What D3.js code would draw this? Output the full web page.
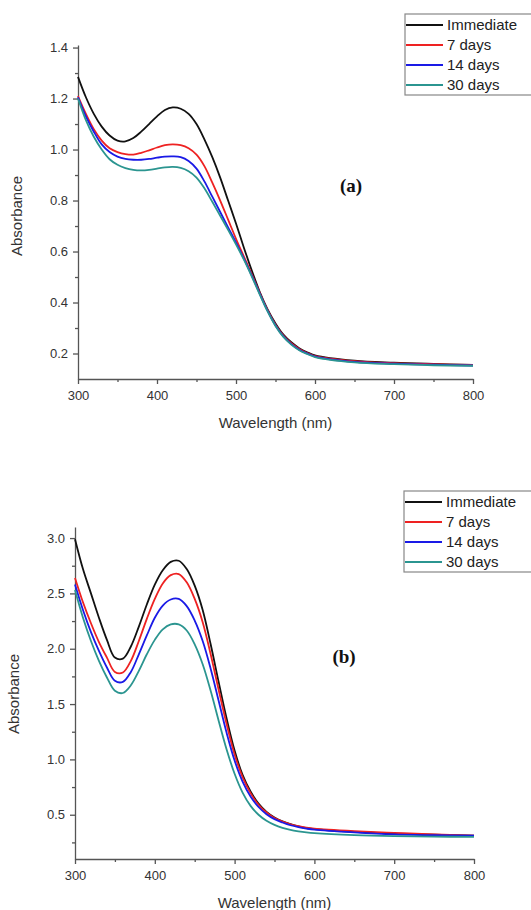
<!DOCTYPE html>
<html>
<head>
<meta charset="utf-8">
<script src="https://cdn.jsdelivr.net/npm/d3@7"></script>
<style>
  body { margin: 0; background: #fff; }
  svg { display: block; font-family: "Liberation Sans", Arial, sans-serif; }
</style>
</head>
<body>
<svg id="chart"></svg>
<script>
// UV-vis spectra, two panels (a) and (b)

var wavelengths = [300, 310, 320, 330, 340, 350, 360, 370, 380, 390, 400, 410, 420, 430, 440, 450,
    460, 470, 480, 490, 500, 510, 520, 530, 540, 550, 560, 570, 580, 590, 600, 650, 700, 750, 800];
var seriesNames = ['Immediate', '7 days', '14 days', '30 days'];
var seriesColors = ['#111111', '#ee2222', '#1a1ae6', '#2b9590'];

// panel (a)
var absA_immediate = [1.285, 1.205, 1.14, 1.09, 1.055, 1.035, 1.032, 1.045, 1.07, 1.10, 1.13, 1.155, 1.165, 1.16, 1.14, 1.10,
    1.04, 0.97, 0.89, 0.80, 0.71, 0.615, 0.525, 0.442, 0.373, 0.318, 0.274, 0.244, 0.221, 0.205, 0.193, 0.172, 0.164, 0.159, 0.155];
var absA_7days = [1.21, 1.14, 1.08, 1.035, 1.005, 0.99, 0.982, 0.98, 0.987, 0.997, 1.008, 1.017, 1.02, 1.017, 1.005, 0.98,
    0.935, 0.87, 0.80, 0.725, 0.65, 0.58, 0.51, 0.438, 0.37, 0.313, 0.27, 0.24, 0.218, 0.202, 0.19, 0.17, 0.162, 0.158, 0.155];
var absA_14days = [1.205, 1.13, 1.07, 1.02, 0.99, 0.972, 0.963, 0.96, 0.96, 0.963, 0.968, 0.972, 0.973, 0.97, 0.955, 0.925,
    0.875, 0.815, 0.755, 0.695, 0.635, 0.572, 0.505, 0.435, 0.367, 0.31, 0.267, 0.237, 0.215, 0.20, 0.188, 0.167, 0.16, 0.156, 0.153];
var absA_30days = [1.20, 1.115, 1.05, 1.0, 0.962, 0.94, 0.927, 0.92, 0.918, 0.92, 0.925, 0.93, 0.932, 0.928, 0.915, 0.89,
    0.848, 0.795, 0.74, 0.685, 0.628, 0.568, 0.502, 0.432, 0.365, 0.308, 0.265, 0.235, 0.213, 0.198, 0.186, 0.165, 0.158, 0.154, 0.152];

// panel (b)
var absB_immediate = [2.99, 2.72, 2.50, 2.28, 2.08, 1.92, 1.91, 2.02, 2.20, 2.40, 2.58, 2.71, 2.785, 2.795, 2.72, 2.57,
    2.35, 2.04, 1.70, 1.37, 1.08, 0.86, 0.71, 0.60, 0.525, 0.475, 0.44, 0.415, 0.395, 0.38, 0.37, 0.345, 0.33, 0.32, 0.31];
var absB_7days = [2.64, 2.42, 2.23, 2.06, 1.92, 1.79, 1.785, 1.89, 2.07, 2.27, 2.45, 2.59, 2.665, 2.675, 2.60, 2.45,
    2.24, 1.95, 1.63, 1.32, 1.045, 0.84, 0.695, 0.59, 0.52, 0.47, 0.438, 0.414, 0.396, 0.383, 0.374, 0.352, 0.336, 0.322, 0.312];
var absB_14days = [2.58, 2.35, 2.15, 1.98, 1.83, 1.71, 1.70, 1.79, 1.95, 2.12, 2.28, 2.39, 2.445, 2.45, 2.385, 2.255,
    2.07, 1.82, 1.53, 1.24, 0.99, 0.80, 0.665, 0.57, 0.505, 0.46, 0.43, 0.405, 0.388, 0.375, 0.365, 0.34, 0.322, 0.315, 0.31];
var absB_30days = [2.53, 2.28, 2.07, 1.89, 1.74, 1.62, 1.60, 1.67, 1.80, 1.95, 2.08, 2.175, 2.22, 2.22, 2.165, 2.04,
    1.86, 1.62, 1.35, 1.09, 0.87, 0.70, 0.58, 0.50, 0.445, 0.408, 0.382, 0.363, 0.35, 0.34, 0.333, 0.315, 0.306, 0.302, 0.30];

var xTicks = [300, 400, 500, 600, 700, 800];
var xMinorTicks = [350, 450, 550, 650, 750];
var yTicksA = [0.2, 0.4, 0.6, 0.8, 1.0, 1.2, 1.4];
var yMinorTicksA = [0.3, 0.5, 0.7, 0.9, 1.1, 1.3];
var yTicksB = [0.5, 1.0, 1.5, 2.0, 2.5, 3.0];
var yMinorTicksB = [0.25, 0.75, 1.25, 1.75, 2.25, 2.75];

var svgWidth = 531, svgHeight = 910;
var axisColor = '#555';

var svg = d3.select('#chart')
    .attr('width', svgWidth)
    .attr('height', svgHeight);

function drawPanel(p) {
    var g = svg.append('g');

    var xScale = d3.scaleLinear().domain([300, 800]).range([p.left, p.right]);
    var yScale = d3.scaleLinear().domain(p.yDomain).range([p.bottom, p.top]);

    // minor ticks first, so major ones sit on top
    g.append('g')
        .attr('transform', 'translate(0,' + p.bottom + ')')
        .call(d3.axisBottom(xScale).tickValues(xMinorTicks).tickSize(3).tickFormat(''))
        .call(function(a) { a.select('.domain').remove(); });
    g.append('g')
        .attr('transform', 'translate(' + p.left + ',0)')
        .call(d3.axisLeft(yScale).tickValues(p.yMinor).tickSize(3).tickFormat(''))
        .call(function(a) { a.select('.domain').remove(); });

    g.append('g')
        .attr('transform', 'translate(0,' + p.bottom + ')')
        .call(d3.axisBottom(xScale).tickValues(xTicks).tickSize(5).tickSizeOuter(0).tickPadding(7));
    g.append('g')
        .attr('transform', 'translate(' + p.left + ',0)')
        .call(d3.axisLeft(yScale).tickValues(p.yTicks).tickSize(5).tickSizeOuter(0).tickPadding(5)
            .tickFormat(d3.format('.1f')));

    g.selectAll('.domain, .tick line').attr('stroke', axisColor).attr('stroke-width', 1.3);
    g.selectAll('.tick text')
        .attr('font-size', 13)
        .attr('font-family', '"Liberation Sans", Arial, sans-serif')
        .attr('fill', '#333');

    // axis titles
    g.append('text')
        .attr('x', (p.left + p.right) / 2)
        .attr('y', p.bottom + 49)
        .attr('text-anchor', 'middle')
        .attr('font-size', 15)
        .attr('fill', '#333')
        .text('Wavelength (nm)');
    g.append('text')
        .attr('transform', 'translate(' + p.yTitleX + ',' + p.yTitleY + ') rotate(-90)')
        .attr('text-anchor', 'middle')
        .attr('font-size', 15)
        .attr('fill', '#333')
        .text('Absorbance');

    // spectra
    var line = d3.line()
        .x(function(d, i) { return xScale(wavelengths[i]); })
        .y(function(d) { return yScale(d); })
        .curve(d3.curveCatmullRom.alpha(0.5));

    g.selectAll('path.spectrum')
        .data(p.series)
        .enter()
        .append('path')
        .attr('class', 'spectrum')
        .attr('fill', 'none')
        .attr('stroke', function(d, i) { return seriesColors[i]; })
        .attr('stroke-width', 1.8)
        .attr('d', function(d) { return line(d); });

    // panel label
    g.append('text')
        .attr('x', p.labelX)
        .attr('y', p.labelY)
        .attr('text-anchor', 'middle')
        .attr('font-family', '"Liberation Serif", "Times New Roman", serif')
        .attr('font-weight', 'bold')
        .attr('font-size', 19)
        .attr('fill', '#111')
        .text(p.label);

    // legend (runs off the right edge like the original)
    var legend = g.append('g').attr('transform', 'translate(' + p.legendX + ',' + p.legendY + ')');
    legend.append('rect')
        .attr('x', 0).attr('y', 0)
        .attr('width', 150).attr('height', 81)
        .attr('fill', '#fff')
        .attr('stroke', '#888')
        .attr('stroke-width', 1.2);
    var rows = legend.selectAll('g.row')
        .data(seriesNames)
        .enter()
        .append('g')
        .attr('class', 'row')
        .attr('transform', function(d, i) { return 'translate(0,' + (11 + i * 20) + ')'; });
    rows.append('line')
        .attr('x1', 1).attr('x2', 38)
        .attr('stroke', function(d, i) { return seriesColors[i]; })
        .attr('stroke-width', 2);
    rows.append('text')
        .attr('x', 42)
        .attr('dy', '0.36em')
        .attr('font-size', 15)
        .attr('fill', '#222')
        .text(function(d) { return d; });
}

drawPanel({
    left: 78, right: 473, top: 45, bottom: 379,
    yDomain: [0.1, 1.41], yTicks: yTicksA, yMinor: yMinorTicksA,
    series: [absA_immediate, absA_7days, absA_14days, absA_30days],
    yTitleX: 22, yTitleY: 216,
    label: '(a)', labelX: 351, labelY: 192,
    legendX: 405, legendY: 14
});

drawPanel({
    left: 75, right: 474, top: 527, bottom: 859,
    yDomain: [0.1, 3.1], yTicks: yTicksB, yMinor: yMinorTicksB,
    series: [absB_immediate, absB_7days, absB_14days, absB_30days],
    yTitleX: 19, yTitleY: 694,
    label: '(b)', labelX: 344, labelY: 663,
    legendX: 404, legendY: 491
});
</script>
</body>
</html>
